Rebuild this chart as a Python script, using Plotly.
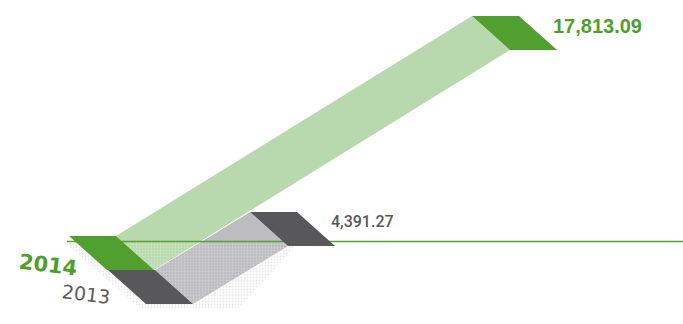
import plotly.graph_objects as go

# ---- data ----
years = ["2014", "2013"]
values = [17813.09, 4391.27]
value_labels = ["17,813.09", "4,391.27"]

# ---- styles ----
dark_cols = ["#509f2f", "#58585a"]
ribbon_cols = ["#b8d9ad", "#bdbdc1"]
year_cols = ["#4f9f2f", "#5a5a5c"]
label_cols = ["#4f9f2f", "#58585a"]
label_sizes = [20, 16]
label_weights = [700, 500]
label_fonts = ["Liberation Sans, Arial", "Roboto, Arial"]
year_weights = [700, 400]
year_sizes = [21, 19]
line_col = "#52a232"

W, H = 683, 324
# geometry (pixel coordinate system)
BASE_X0, BASE_Y0 = 69, 236
STEP_X, STEP_Y = 39, 34
PW, PH, SKEW = 47, 34, 38
FLOOR_Y = 241.5


def rise_x(v):
    return 56.6 + 0.01945 * v


def rise_y(v):
    return 5 + 0.01207 * v


def para(x0, y0):
    return [x0, x0 + PW, x0 + PW + SKEW, x0 + SKEW, x0], [y0, y0, y0 + PH, y0 + PH, y0]


fig = go.Figure()


def poly(xs, ys, color, pattern=None):
    kw = dict(x=xs, y=ys, mode="lines", fill="toself", fillcolor=color,
              line=dict(width=0, color=color),
              hoverinfo="skip", showlegend=False)
    if pattern:
        kw["fillpattern"] = pattern
    fig.add_trace(go.Scatter(**kw))


bases, tops = [], []
for i, v in enumerate(values):
    bx, by = BASE_X0 + STEP_X * i, BASE_Y0 + STEP_Y * i
    tx, ty = bx + rise_x(v), by - rise_y(v)
    bases.append((bx, by))
    tops.append((tx, ty))

# soft dotted shadow on the floor
b0, b1 = bases[0], bases[1]
t1 = tops[1]
poly([b0[0] - 6, b1[0] + SKEW - 5, b1[0] + PW + SKEW + 45, t1[0] + SKEW + 8, t1[0] + SKEW + 8, b0[0] - 6],
     [FLOOR_Y, b1[1] + PH + 5, b1[1] + PH + 5, t1[1] + PH, FLOOR_Y, FLOOR_Y],
     "rgba(255,255,255,0)",
     pattern=dict(shape=".", fgcolor="#d8d8da", fgopacity=0.6, size=3, solidity=0.3))

# ribbons
for i in range(len(values)):
    bx, by = bases[i]
    tx, ty = tops[i]
    xs = [bx + PW, tx, tx + SKEW, bx + PW + SKEW, bx + PW]
    ys = [by, ty, ty + PH, by + PH, by]
    poly(xs, ys, ribbon_cols[i])

# dotted texture on ribbon parts below floor line
b0x, b0y = bases[0]
sx = b0x + PW + SKEW * (FLOOR_Y - b0y) / PH
t1x, t1y = tops[1]
b1x, b1y = bases[1]
rx = t1x + SKEW * (FLOOR_Y - t1y) / PH
poly([sx, b1x + PW, b1x + PW + SKEW, t1x + SKEW, rx, sx],
     [FLOOR_Y, b1y, b1y + PH, t1y + PH, FLOOR_Y, FLOOR_Y],
     "rgba(255,255,255,0)",
     pattern=dict(shape=".", fgcolor="#ffffff", fgopacity=0.3, size=3, solidity=0.3))

# floor line (below the parallelograms)
fig.add_trace(go.Scatter(x=[b0x - 2, W], y=[FLOOR_Y, FLOOR_Y], mode="lines",
                         line=dict(color=line_col, width=1.6), hoverinfo="skip", showlegend=False))

# base and top parallelograms
for i in range(len(values)):
    xs, ys = para(*bases[i])
    poly(xs, ys, dark_cols[i])
    xs, ys = para(*tops[i])
    poly(xs, ys, dark_cols[i])

# labels
for i in range(len(values)):
    tx, ty = tops[i]
    fig.add_annotation(x=tx + PW + 32, y=ty + 9.5, text=value_labels[i], showarrow=False,
                       xanchor="left", yanchor="middle",
                       font=dict(family=label_fonts[i], size=label_sizes[i],
                                 color=label_cols[i], weight=label_weights[i]))
    bx, by = bases[i]
    fig.add_annotation(x=bx - 21 - 1 * i, y=by + 29 - 5 * i, text=years[i], showarrow=False,
                       xanchor="center", yanchor="middle", textangle=7,
                       font=dict(family="DejaVu Sans", size=year_sizes[i], color=year_cols[i],
                                 weight=year_weights[i]))

fig.update_layout(
    width=W, height=H, margin=dict(l=0, r=0, t=0, b=0),
    paper_bgcolor="white", plot_bgcolor="white",
    xaxis=dict(range=[0, W], visible=False, fixedrange=True),
    yaxis=dict(range=[H, 0], visible=False, fixedrange=True),
    showlegend=False,
)

fig.write_html("out.html", config={"displayModeBar": False},
               post_script="document.body.style.margin='0';")
